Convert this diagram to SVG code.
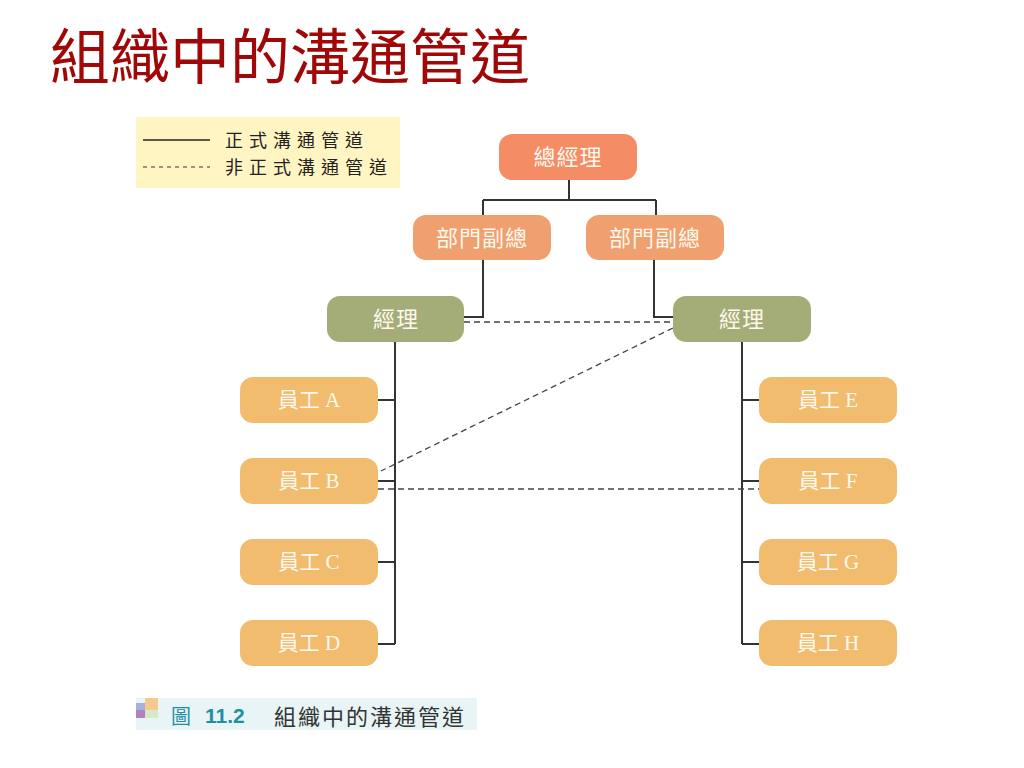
<svg xmlns="http://www.w3.org/2000/svg" width="1024" height="768" viewBox="0 0 1024 768">
<style>
.cjk{font-family:"Noto Sans CJK TC","Noto Sans CJK SC",sans-serif}
.title{font-size:60px;fill:#a00808}
.ntext{font-family:"Liberation Serif","Noto Sans CJK TC",serif;font-size:21px;fill:#fff8ee;text-anchor:middle}
.ntext2{font-family:"Noto Sans CJK TC",sans-serif;font-size:22px;fill:#fff8ee;text-anchor:middle;letter-spacing:1px}
.solid{stroke:#333;stroke-width:2;fill:none}
.dash{stroke:#444;stroke-width:1.3;fill:none;stroke-dasharray:6 4}
.gm{fill:#f48d65}
.vp{fill:#f0a06e}
.mg{fill:#a4ac78}
.em{fill:#f1bc6e}
.leg{font-family:"Noto Sans CJK TC",serif;font-size:18px;fill:#222;letter-spacing:6px}
</style>
<rect width="1024" height="768" fill="#fff"/>
<text class="cjk title" x="50" y="79">組織中的溝通管道</text>

<g id="legend">
<rect x="136" y="117" width="264" height="71" fill="#fff5c2"/>
<line x1="143" y1="140" x2="210" y2="140" stroke="#222" stroke-width="1.5"/>
<line x1="143" y1="167" x2="210" y2="167" stroke="#333" stroke-width="1.2" stroke-dasharray="4 4"/>
<text class="leg" x="225" y="147">正式溝通管道</text>
<text class="leg" x="225" y="174">非正式溝通管道</text>
</g>

<g id="connectors">
<path class="solid" d="M569 180V200M483 200H656M483 200V215M656 200V215"/>
<path class="solid" d="M483 260V317H464M654 260V317H673"/>
<path class="solid" d="M395 342V644M378 400H395M378 481H395M378 562H395M378 644H395"/>
<path class="solid" d="M742 342V644M742 400H759M742 481H759M742 562H759M742 644H759"/>
<path class="dash" d="M464 322H673"/>
<path class="dash" d="M673 328L381 471"/>
<path class="dash" d="M378 489H759"/>
</g>

<g id="gm"><rect class="gm" x="499" y="134" width="138" height="46" rx="13"/><text class="ntext2" x="568" y="165">總經理</text></g>
<g id="vp1"><rect class="vp" x="413" y="215" width="138" height="45" rx="13"/><text class="ntext2" x="482" y="246">部門副總</text></g>
<g id="vp2"><rect class="vp" x="586" y="215" width="138" height="45" rx="13"/><text class="ntext2" x="655" y="246">部門副總</text></g>
<g id="mg1"><rect class="mg" x="327" y="296" width="137" height="46" rx="13"/><text class="ntext2" x="396" y="327">經理</text></g>
<g id="mg2"><rect class="mg" x="673" y="296" width="138" height="46" rx="13"/><text class="ntext2" x="742" y="327">經理</text></g>

<g id="ea"><rect class="em" x="240" y="377" width="138" height="46" rx="13"/><text class="ntext" x="309" y="407">員工 A</text></g>
<g id="eb"><rect class="em" x="240" y="458" width="138" height="46" rx="13"/><text class="ntext" x="309" y="488">員工 B</text></g>
<g id="ec"><rect class="em" x="240" y="539" width="138" height="46" rx="13"/><text class="ntext" x="309" y="569">員工 C</text></g>
<g id="ed"><rect class="em" x="240" y="620" width="138" height="46" rx="13"/><text class="ntext" x="309" y="650">員工 D</text></g>
<g id="ee"><rect class="em" x="759" y="377" width="138" height="46" rx="13"/><text class="ntext" x="828" y="407">員工 E</text></g>
<g id="ef"><rect class="em" x="759" y="458" width="138" height="46" rx="13"/><text class="ntext" x="828" y="488">員工 F</text></g>
<g id="eg"><rect class="em" x="759" y="539" width="138" height="46" rx="13"/><text class="ntext" x="828" y="569">員工 G</text></g>
<g id="eh"><rect class="em" x="759" y="620" width="138" height="46" rx="13"/><text class="ntext" x="828" y="650">員工 H</text></g>

<g id="caption">
<rect x="136" y="698" width="341" height="32" fill="#e9f4f6"/>
<rect x="136" y="703" width="9" height="7" fill="#a8b0dc"/>
<rect x="145" y="698" width="13" height="12" fill="#f7c88c"/>
<rect x="136" y="710" width="9" height="8" fill="#b083c0"/>
<rect x="145" y="710" width="13" height="8" fill="#d8e8c8"/>
<text x="171" y="724" font-family="Noto Sans CJK TC, sans-serif" font-size="20" fill="#1f8fa3">圖</text>
<text x="205" y="723" font-family="Liberation Sans, sans-serif" font-size="21" font-weight="bold" fill="#1f8fa3">11.2</text>
<text x="274" y="725" font-family="Noto Sans CJK TC, sans-serif" font-size="22" fill="#333" letter-spacing="2">組織中的溝通管道</text>
</g>
</svg>
